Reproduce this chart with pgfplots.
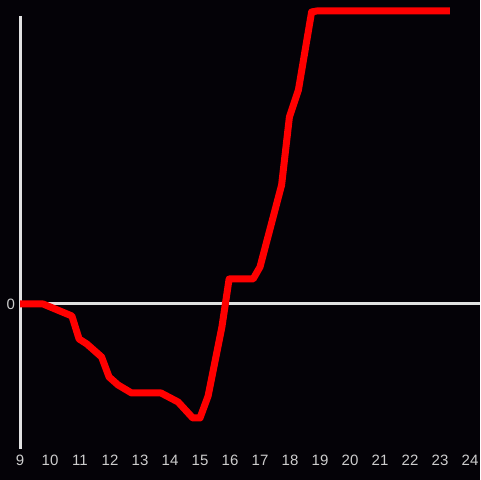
\documentclass[border=0pt]{standalone}
\usepackage{pgfplots}
\pgfplotsset{compat=1.18}
\usepackage{fontspec}
\setmainfont{Liberation Sans}
\definecolor{bg}{RGB}{4,2,7}
\definecolor{axcol}{RGB}{225,225,225}
\definecolor{lblcol}{RGB}{205,205,205}
\begin{document}
\begin{tikzpicture}
\useasboundingbox (0pt,0pt) rectangle (240pt,240pt);
\fill[bg] (0pt,0pt) rectangle (240pt,240pt);
\begin{axis}[
  at={(10pt,15.5pt)}, anchor=south west,
  scale only axis,
  width=230pt, height=216.5pt,
  xmin=9, xmax=24.3333, ymin=-145, ymax=288,
  clip=false,
  axis line style={draw=none},
  xtick={9,...,24}, ytick={0},
  tick style={draw=none},
  /pgf/number format/assume math mode=true,
  tick label style={font=\fontsize{7.5pt}{9pt}\selectfont, text=lblcol},
  xticklabel style={yshift=0.3pt},
  yticklabel style={xshift=1pt},
]
\draw[axcol, line width=1.5pt] (axis cs:9,-145) -- (axis cs:9,288);
\draw[axcol, line width=1.5pt] (axis cs:9,0) -- (axis cs:24.3333,0);
\addplot[red, line width=3.5pt, line join=round] coordinates {
(9,0) (9.77,0) (10.73,-12) (10.97,-35) (11.23,-40) (11.72,-53) (11.97,-73)
(12.27,-81) (12.72,-89) (13.7,-89) (14.27,-98) (14.76,-114) (15.0,-114)
(15.27,-92) (15.73,-23) (15.97,25) (16.77,25) (17.0,37) (17.72,119)
(17.98,187) (18.28,214) (18.72,292) (18.89,293) (23.33,293)
};
\end{axis}
\end{tikzpicture}
\end{document}
